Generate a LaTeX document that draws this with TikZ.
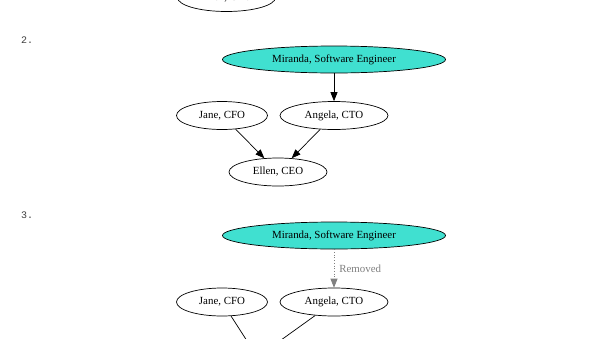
\documentclass[tikz,border=0pt]{standalone}
\usepackage{fontspec}
\setmainfont{Liberation Serif}
\setmonofont{Liberation Mono}
\usetikzlibrary{shapes.geometric,arrows.meta}
\definecolor{turq}{HTML}{40E0D0}
\definecolor{remgray}{HTML}{808080}
\begin{document}
\begin{tikzpicture}[x=1pt,y=-1pt,
  person/.style={ellipse,draw=black,line width=0.7pt,inner sep=0pt,font=\fontsize{10.9}{12}\selectfont},
  jane/.style={person,minimum width=91pt,minimum height=28pt},
  angela/.style={person,minimum width=108pt,minimum height=28pt},
  ellen/.style={person,minimum width=98pt,minimum height=28pt},
  miranda/.style={person,fill=turq,minimum width=223pt,minimum height=27pt},
  edge/.style={line width=0.7pt,-{Triangle[length=9pt,width=7pt]}},
  removed/.style={draw=remgray,line width=0.7pt,dotted,-{Triangle[length=9pt,width=7pt,fill=remgray]}},
  steplabel/.style={font=\ttfamily\fontsize{10}{12}\selectfont,text=black!75,anchor=west,inner sep=0pt}]
\useasboundingbox (0,0) rectangle (600,338);
\clip (0,0) rectangle (600,338);
\fill[white] (0,0) rectangle (600,338);
% section 1 (partial)
\node[ellen] (e1) at (226.5,-2.5) {Ellen, CEO};
% section 2
\node[steplabel] (n2) at (21,40) {2.};
\node[miranda] (m2) at (334,59.5) {Miranda, Software Engineer};
\node[jane] (j2) at (222,115.5) {Jane, CFO};
\node[angela] (a2) at (334,115.5) {Angela, CTO};
\node[ellen] (e2) at (278,172) {Ellen, CEO};
\draw[edge] (m2) -- (a2);
\draw[edge] (j2) -- (e2);
\draw[edge] (a2) -- (e2);
% section 3
\node[steplabel] (n3) at (21,215) {3.};
\node[miranda] (m3) at (334,235.5) {Miranda, Software Engineer};
\node[jane] (j3) at (222,302) {Jane, CFO};
\node[angela] (a3) at (334,302) {Angela, CTO};
\coordinate (jend) at (258,358);
\coordinate (aend) at (256,358);
\draw[removed] (m3) -- node[right,text=remgray,font=\fontsize{10.9}{12}\selectfont,inner sep=0pt,xshift=5pt] (rl) {Removed} (a3);
\draw[line width=0.7pt] (j3) -- (jend);
\draw[line width=0.7pt] (a3) -- (aend);
\end{tikzpicture}
\end{document}
